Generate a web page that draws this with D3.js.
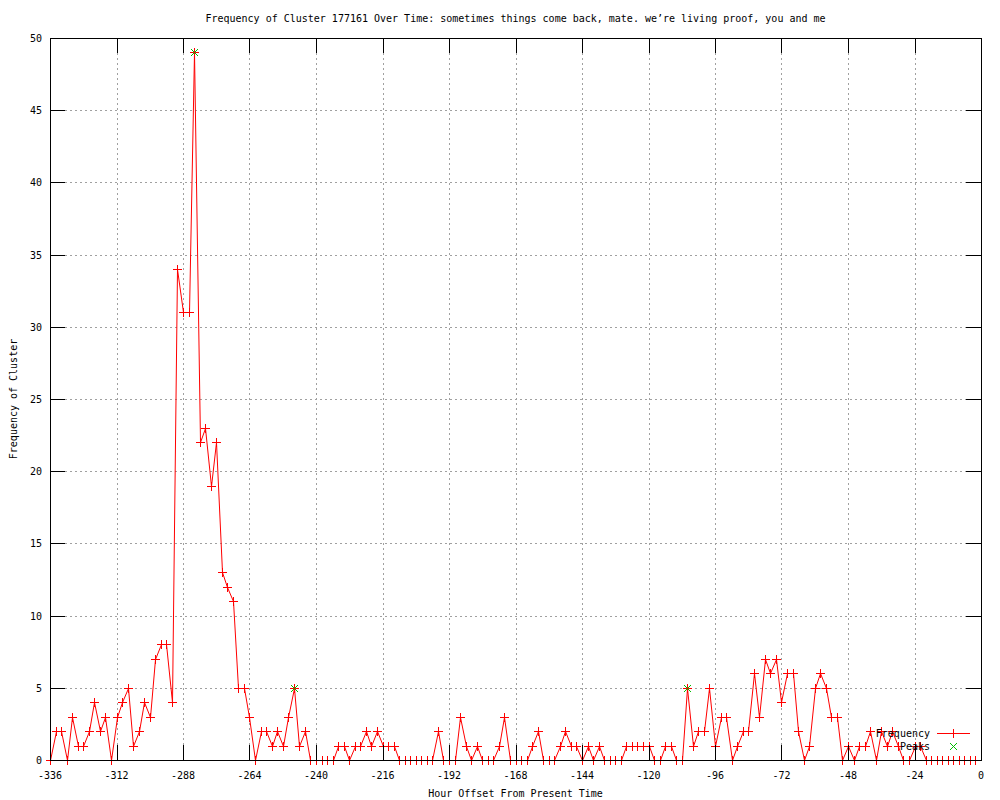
<!DOCTYPE html>
<html>
<head>
<meta charset="utf-8">
<script src="https://cdn.jsdelivr.net/npm/d3@7"></script>
<style>
  body { margin: 0; background: #fff; }
  text { font-family: "DejaVu Sans Mono", "Liberation Mono", monospace; font-size: 10px; fill: #000; }
</style>
</head>
<body>
<div id="chart"></div>
<script>
const title = "Frequency of Cluster 177161 Over Time: sometimes things come back, mate. we\u2019re living proof, you and me";
const xLabel = "Hour Offset From Present Time";
const yLabel = "Frequency of Cluster";

// one sample every 2 hours, -336 .. 0
const hours = d3.range(-336, 1, 2);
const frequency = [
    0, 2, 2, 0, 3, 1, 1, 2, 4, 2, 3, 0, 3, 4, 5, 1, 2, 4, 3, 7,   // -336 .. -298
    8, 8, 4, 34, 31, 31, 49, 22, 23, 19, 22, 13, 12, 11, 5, 5, 3, 0, // -296 .. -262
    2, 2, 1, 2, 1, 3, 5, 1, 2, 0, 0, 0, 0, 0, 1, 1, 0, 1, 1, 2,   // -260 .. -222
    1, 2, 1, 1, 1, 0, 0, 0, 0, 0, 0, 0, 2, 0, 0, 0, 3, 1, 0, 1,   // -220 .. -182
    0, 0, 0, 1, 3, 0, 0, 0, 0, 1, 2, 0, 0, 0, 1, 2, 1, 1, 0, 1,   // -180 .. -142
    0, 1, 0, 0, 0, 0, 1, 1, 1, 1, 1, 0, 0, 1, 1, 0, 0, 5, 1, 2,   // -140 .. -102
    2, 5, 1, 3, 3, 0, 1, 2, 2, 6, 3, 7, 6, 7, 4, 6, 6, 2, 0, 1,   // -100 .. -62
    5, 6, 5, 3, 3, 0, 1, 0, 1, 1, 2, 0, 2, 1, 2, 1, 0, 0, 1, 1,   // -60 .. -22
    0, 0, 0, 0, 0, 0, 0, 0, 0, 0                                   // -20 .. 0
];
const peakHours = [-284, -248, -106];
const peakValues = [49, 5, 5];

const xTicks = d3.range(-336, 1, 24);
const yTicks = d3.range(0, 51, 5);

const width = 1000, height = 800;
const plot = { left: 50, right: 981, top: 38, bottom: 760 };
const tickLen = 15;

const svg = d3.select("#chart").append("svg")
    .attr("width", width)
    .attr("height", height)
    .style("display", "block");

const x = d3.scaleLinear().domain([-336, 0]).range([plot.left, plot.right]);
const y = d3.scaleLinear().domain([0, 50]).range([plot.bottom, plot.top]);

// title and axis labels
svg.append("text")
    .attr("x", (plot.left + plot.right) / 2)
    .attr("y", 22)
    .attr("text-anchor", "middle")
    .text(title);

svg.append("text")
    .attr("x", (plot.left + plot.right) / 2)
    .attr("y", 797)
    .attr("text-anchor", "middle")
    .text(xLabel);

svg.append("text")
    .attr("transform", "translate(17," + ((plot.top + plot.bottom) / 2) + ") rotate(-90)")
    .attr("text-anchor", "middle")
    .text(yLabel);

// dotted grid
const grid = svg.append("g")
    .attr("stroke", "#a0a0a0")
    .attr("stroke-dasharray", "2,3")
    .attr("shape-rendering", "crispEdges");

grid.selectAll(".gx")
    .data(xTicks.slice(1, -1))
    .enter().append("line")
    .attr("x1", function (d) { return Math.round(x(d)) + 0.5; })
    .attr("x2", function (d) { return Math.round(x(d)) + 0.5; })
    .attr("y1", plot.top)
    .attr("y2", plot.bottom);

grid.selectAll(".gy")
    .data(yTicks.slice(1, -1))
    .enter().append("line")
    .attr("y1", function (d) { return Math.round(y(d)) + 0.5; })
    .attr("y2", function (d) { return Math.round(y(d)) + 0.5; })
    .attr("x1", plot.left)
    .attr("x2", plot.right);

// frequency line and + markers
const series = hours.map(function (h, i) { return { h: h, v: frequency[i] }; });

svg.append("path")
    .datum(series)
    .attr("fill", "none")
    .attr("stroke", "#ff0000")
    .attr("stroke-width", 1)
    .attr("d", d3.line()
        .x(function (d) { return Math.round(x(d.h)) + 0.5; })
        .y(function (d) { return Math.round(y(d.v)) + 0.5; }));

function plus(cx, cy, r) {
    cx = Math.round(cx) + 0.5;
    cy = Math.round(cy) + 0.5;
    return "M" + (cx - r) + "," + cy + "H" + (cx + r) + "M" + cx + "," + (cy - r) + "V" + (cy + r);
}

function cross(cx, cy, r) {
    cx = Math.round(cx) + 0.5;
    cy = Math.round(cy) + 0.5;
    return "M" + (cx - r) + "," + (cy - r) + "L" + (cx + r) + "," + (cy + r) +
        "M" + (cx - r) + "," + (cy + r) + "L" + (cx + r) + "," + (cy - r);
}

svg.append("g")
    .attr("stroke", "#ff0000")
    .attr("fill", "none")
    .attr("shape-rendering", "crispEdges")
    .selectAll("path")
    .data(series)
    .enter().append("path")
    .attr("d", function (d) { return plus(x(d.h), y(d.v), 4.5); });

// peaks
svg.append("g")
    .attr("stroke", "#00c000")
    .attr("fill", "none")
    .selectAll("path")
    .data(peakHours)
    .enter().append("path")
    .attr("d", function (d, i) { return cross(x(d), y(peakValues[i]), 3.5); });

// border and ticks
const axes = svg.append("g")
    .attr("stroke", "#000")
    .attr("shape-rendering", "crispEdges");

axes.append("rect")
    .attr("x", plot.left + 0.5)
    .attr("y", plot.top + 0.5)
    .attr("width", plot.right - plot.left)
    .attr("height", plot.bottom - plot.top)
    .attr("fill", "none");

xTicks.slice(1, -1).forEach(function (t) {
    const px = Math.round(x(t)) + 0.5;
    axes.append("line").attr("x1", px).attr("x2", px).attr("y1", plot.bottom).attr("y2", plot.bottom - tickLen);
    axes.append("line").attr("x1", px).attr("x2", px).attr("y1", plot.top).attr("y2", plot.top + tickLen);
});

yTicks.slice(1, -1).forEach(function (t) {
    const py = Math.round(y(t)) + 0.5;
    axes.append("line").attr("y1", py).attr("y2", py).attr("x1", plot.left).attr("x2", plot.left + tickLen);
    axes.append("line").attr("y1", py).attr("y2", py).attr("x1", plot.right).attr("x2", plot.right - tickLen);
});

svg.append("g").selectAll("text")
    .data(xTicks)
    .enter().append("text")
    .attr("x", function (d) { return x(d); })
    .attr("y", 779)
    .attr("text-anchor", "middle")
    .text(function (d) { return d; });

svg.append("g").selectAll("text")
    .data(yTicks)
    .enter().append("text")
    .attr("x", plot.left - 8)
    .attr("y", function (d) { return y(d) + 4; })
    .attr("text-anchor", "end")
    .text(function (d) { return d; });

// legend
const legend = svg.append("g");
legend.append("text").attr("x", 930).attr("y", 737).attr("text-anchor", "end").text("Frequency");
legend.append("text").attr("x", 930).attr("y", 750).attr("text-anchor", "end").text("Peaks");
legend.append("line")
    .attr("x1", 937).attr("x2", 970).attr("y1", 733.5).attr("y2", 733.5)
    .attr("stroke", "#ff0000").attr("shape-rendering", "crispEdges");
legend.append("path")
    .attr("d", plus(953, 733, 4.5))
    .attr("stroke", "#ff0000").attr("fill", "none").attr("shape-rendering", "crispEdges");
legend.append("path")
    .attr("d", cross(953, 746, 3.5))
    .attr("stroke", "#00c000").attr("fill", "none");
</script>
</body>
</html>
